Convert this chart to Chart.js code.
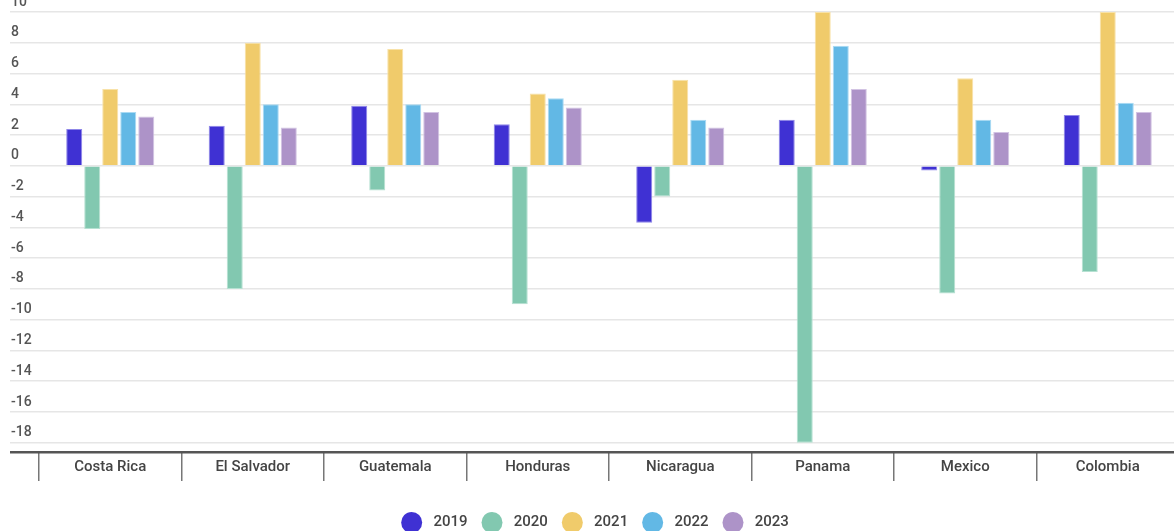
<!DOCTYPE html>
<html>
<head>
<meta charset="utf-8">
<script src="https://cdn.jsdelivr.net/npm/chart.js@4"></script>
<style>
  html, body { margin: 0; padding: 0; background: #fff; overflow: hidden; }
  #wrap { width: 1180px; height: 531px; }
</style>
</head>
<body>
<div id="wrap"><canvas id="chart" width="1180" height="531"></canvas></div>
<script>
// Рост ВВП, %
const countries = ['Costa Rica', 'El Salvador', 'Guatemala', 'Honduras', 'Nicaragua', 'Panama', 'Mexico', 'Colombia'];
const years = ['2019', '2020', '2021', '2022', '2023'];

const v2019 = [2.4, 2.6, 3.9, 2.7, -3.7, 3.0, -0.3, 3.3];
const v2020 = [-4.1, -8.0, -1.6, -9.0, -2.0, -18.0, -8.3, -6.9];
const v2021 = [5.0, 8.0, 7.6, 4.7, 5.6, 10.0, 5.7, 10.0];
const v2022 = [3.5, 4.0, 4.0, 4.4, 3.0, 7.8, 3.0, 4.1];
const v2023 = [3.2, 2.5, 3.5, 3.8, 2.5, 5.0, 2.2, 3.5];

const yTicks = [-18, -16, -14, -12, -10, -8, -6, -4, -2, 0, 2, 4, 6, 8, 10];
const yMin = -18.6;
const yMax = 10;

const fills = ['#3f31d3', '#82c8b0', '#f0cb6b', '#62b8e5', '#ad93c8'];
const borders = ['#8f87e8', '#b6e1d2', '#f8e2a8', '#a9daf3', '#d2c3e3'];

const series = [v2019, v2020, v2021, v2022, v2023];

const ctx = document.getElementById('chart').getContext('2d');

new Chart(ctx, {
    type: 'bar',
    data: {
        labels: countries,
        datasets: series.map((vals, i) => ({
            label: years[i],
            data: vals,
            backgroundColor: fills[i],
            borderColor: borders[i],
            borderWidth: 1,
            categoryPercentage: 0.632,
            barPercentage: 0.89
        }))
    },
    options: {
        responsive: false,
        animation: false,
        layout: {
            padding: { top: 12, left: 11, right: 1, bottom: 0 }
        },
        plugins: {
            tooltip: { enabled: false },
            legend: {
                position: 'bottom',
                maxHeight: 30,
                labels: {
                    usePointStyle: true,
                    pointStyle: 'circle',
                    pointStyleWidth: 21,
                    padding: 14,
                    color: '#444',
                    font: { family: 'Roboto', size: 15, weight: '500' },
                    generateLabels(chart) {
                        const items = Chart.defaults.plugins.legend.labels.generateLabels(chart);
                        items.forEach(it => {
                            it.text = ' ' + it.text;
                            it.lineWidth = 0;
                        });
                        return items;
                    }
                }
            }
        },
        scales: {
            x: {
                border: { display: false },
                grid: {
                    offset: true,
                    drawOnChartArea: false,
                    drawTicks: true,
                    tickLength: 29,
                    color: '#777',
                    lineWidth: 1.5
                },
                ticks: {
                    padding: -23,
                    color: '#444',
                    font: { family: 'Roboto', size: 15, weight: '500' },
                    maxRotation: 0
                },
                afterFit(scale) { scale.height = 49; }
            },
            y: {
                min: yMin,
                max: yMax,
                border: { display: false },
                grid: {
                    drawTicks: true,
                    tickLength: 29,
                    color: c => (c.tick && c.tick.value === yMin) ? '#555' : '#e6e6e6',
                    lineWidth: c => (c.tick && c.tick.value === yMin) ? 2.5 : 1.5
                },
                ticks: {
                    crossAlign: 'far',
                    labelOffset: -10,
                    color: '#555',
                    font: { family: 'Roboto', size: 14, weight: '500' },
                    callback: v => yTicks.includes(v) ? v : ''
                },
                afterBuildTicks(scale) {
                    scale.ticks = [yMin].concat(yTicks).map(v => ({ value: v }));
                },
                afterFit(scale) { scale.width = 28; }
            }
        }
    }
});
</script>
</body>
</html>
